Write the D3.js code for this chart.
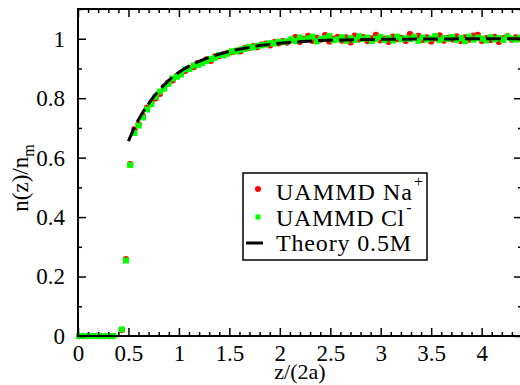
<!DOCTYPE html>
<html><head><meta charset="utf-8">
<script src="https://cdn.jsdelivr.net/npm/d3@7"></script>
<style>html,body{margin:0;padding:0;background:#fff;overflow:hidden}
text, tspan {font-family:"Liberation Serif" !important;}</style>
</head><body><svg id="c" width="520" height="385" font-family="Liberation Serif"></svg>
<script>
const xTicks = [0, 0.5, 1, 1.5, 2, 2.5, 3, 3.5, 4];
const xTickLabels = ["0", "0.5", "1", "1.5", "2", "2.5", "3", "3.5", "4"];
const yTicks = [0, 0.2, 0.4, 0.6, 0.8, 1];
const yTickLabels = ["0", "0.2", "0.4", "0.6", "0.8", "1"];
const xMinor = [0.1,0.2,0.3,0.4,0.6,0.7,0.8,0.9,1.1,1.2,1.3,1.4,1.6,1.7,1.8,1.9,2.1,2.2,2.3,2.4,2.6,2.7,2.8,2.9,3.1,3.2,3.3,3.4,3.6,3.7,3.8,3.9,4.1,4.2,4.3];
const yMinor = [0.1,0.3,0.5,0.7,0.9,1.1];

const zData = [0.013,0.055,0.097,0.139,0.181,0.223,0.265,0.307,0.349,
0.433,0.475,0.517,0.559,0.601,0.643,0.685,0.727,0.769,0.811,0.853,0.895,0.937,0.979,
1.021,1.063,1.105,1.147,1.189,1.231,1.273,1.315,1.357,1.399,1.441,1.483,1.525,1.567,1.609,1.651,1.693,1.735,1.777,1.819,1.861,1.903,1.945,1.987,
2.029,2.071,2.113,2.155,2.197,2.239,2.281,2.323,2.365,2.407,2.449,2.491,2.533,2.575,2.617,2.659,2.701,2.743,2.785,2.827,2.869,2.911,2.953,2.995,
3.037,3.079,3.121,3.163,3.205,3.247,3.289,3.331,3.373,3.415,3.457,3.499,3.541,3.583,3.625,3.667,3.709,3.751,3.793,3.835,3.877,3.919,3.961,
4.003,4.045,4.087,4.129,4.171,4.213,4.255,4.297,4.339,4.381];

const naValues = [0,0,0,0,0,0,0,0,0,
0.020,0.258,0.578,0.695,0.712,0.740,0.768,0.785,0.800,0.815,0.838,0.852,0.860,0.875,
0.885,0.892,0.902,0.905,0.918,0.922,0.930,0.926,0.940,0.942,0.948,0.952,0.955,0.960,0.958,0.968,0.970,0.975,0.972,0.980,0.983,0.978,0.988,0.985,
0.992,0.987,0.996,1.005,0.990,0.999,1.009,0.993,1.003,0.997,1.012,0.991,1.000,1.006,0.994,1.004,0.988,1.010,0.998,1.005,0.992,1.001,1.013,0.995,
1.000,0.990,1.007,0.999,1.003,0.993,1.015,1.006,1.009,0.996,1.004,0.991,1.002,1.011,0.994,1.003,0.998,1.008,0.992,1.004,0.997,1.010,1.013,
0.993,1.002,0.996,1.006,0.990,1.001,1.008,0.997,1.004,1.001];

const clValues = [0,0,0,0,0,0,0,0,0,
0.022,0.254,0.575,0.683,0.708,0.735,0.762,0.780,0.805,0.822,0.832,0.848,0.866,0.872,
0.880,0.897,0.898,0.910,0.912,0.918,0.925,0.932,0.936,0.945,0.944,0.950,0.958,0.957,0.963,0.966,0.972,0.971,0.976,0.978,0.980,0.985,0.984,0.990,
0.988,0.991,0.998,0.992,1.004,0.996,1.001,1.007,0.991,0.999,1.002,1.009,0.995,0.998,1.005,0.993,1.002,0.996,1.008,0.999,1.004,0.992,1.000,1.006,
0.996,1.002,0.994,1.007,0.998,1.002,0.999,1.006,0.993,1.004,0.997,1.001,1.009,0.995,1.002,0.999,1.006,0.996,1.002,0.992,1.007,0.997,1.004,
1.000,0.994,1.005,0.998,1.002,0.996,1.007,1.000,0.997,1.004];

const zTheory = [0.5,0.55,0.6,0.65,0.7,0.75,0.8,0.9,1.0,1.1,1.2,1.3,1.4,1.5,1.6,1.7,1.8,1.9,2.0,2.2,2.4,2.6,2.8,3.0,3.5,4.0,4.4];
const theoryValues = [0.655,0.695,0.728,0.757,0.782,0.805,0.825,0.860,0.887,0.908,0.924,0.937,0.948,0.957,0.965,0.971,0.977,0.981,0.985,0.990,0.994,0.996,0.997,0.998,0.999,1.0,1.0];

const seriesNames = ["UAMMD Na", "UAMMD Cl", "Theory 0.5M"];
const seriesSup = ["+", "-", ""];

const FONT = '"Liberation Serif"';
const svg = d3.select("#c");
const x = d3.scaleLinear().domain([0, 4.4]).range([78, 522]);
const y = d3.scaleLinear().domain([0, 1.1]).range([336, 9]);

// data
const na = d3.zip(zData, naValues);
const cl = d3.zip(zData, clValues);
svg.append("g").selectAll("circle").data(na).join("circle")
  .attr("cx", d => x(d[0])).attr("cy", d => y(d[1])).attr("r", 3.2).attr("fill", "#ff0000");
svg.append("g").selectAll("rect").data(cl).join("rect")
  .attr("x", d => x(d[0]) - 3).attr("y", d => y(d[1]) - 3).attr("width", 6).attr("height", 6).attr("fill", "#00ff00");
const line = d3.line().x(d => x(d[0])).y(d => y(d[1])).curve(d3.curveMonotoneX);
svg.append("path").datum(d3.zip(zTheory, theoryValues)).attr("d", line)
  .attr("fill", "none").attr("stroke", "#000").attr("stroke-width", 3).attr("stroke-dasharray", "15,6");

// axes
function addAxis(axisFn, tx, ty, ticks, labels, size, pad) {
  const a = axisFn.tickValues(ticks).tickSize(size);
  if (labels) a.tickFormat((d, i) => labels[i]).tickPadding(pad); else a.tickFormat("");
  const g = svg.append("g").attr("transform", `translate(${tx},${ty})`).call(a);
  g.attr("font-family", "Liberation Serif").attr("font-size", 23);
  g.select(".domain").remove();
  g.selectAll("line").attr("stroke", "#000").attr("stroke-width", 1.5);
  g.selectAll("text").attr("fill", "#000");
}
addAxis(d3.axisBottom(x), 0, 336, xTicks, xTickLabels, -8, 9);
addAxis(d3.axisBottom(x), 0, 336, xMinor, null, -4);
addAxis(d3.axisTop(x), 0, 9, xTicks, null, -8);
addAxis(d3.axisTop(x), 0, 9, xMinor, null, -4);
addAxis(d3.axisLeft(y), 78, 0, yTicks, yTickLabels, -8, 13);
addAxis(d3.axisLeft(y), 78, 0, yMinor, null, -4);
addAxis(d3.axisRight(y), 522, 0, yTicks, null, -8);
addAxis(d3.axisRight(y), 522, 0, yMinor, null, -4);

svg.append("rect").attr("x", 78).attr("y", 9).attr("width", 444).attr("height", 327)
  .attr("fill", "none").attr("stroke", "#000").attr("stroke-width", 2);

// axis titles
svg.append("text").attr("x", 300).attr("y", 379).attr("text-anchor", "middle")
  .attr("font-size", 22).text("z/(2a)");
const yl = svg.append("text").attr("transform", "translate(28,178) rotate(-90)").attr("text-anchor", "middle")
  .attr("font-size", 23);
yl.append("tspan").text("n(z)/n");
yl.append("tspan").attr("font-size", 16).attr("dy", 6).text("m");

// legend
const lg = svg.append("g");
lg.append("rect").attr("x", 243).attr("y", 173).attr("width", 184).attr("height", 87)
  .attr("fill", "#fff").attr("stroke", "#000").attr("stroke-width", 1.5);
lg.append("circle").attr("cx", 258).attr("cy", 189).attr("r", 3).attr("fill", "#ff0000");
lg.append("rect").attr("x", 255.5).attr("y", 214.5).attr("width", 5).attr("height", 5).attr("fill", "#00ff00");
lg.append("line").attr("x1", 246).attr("x2", 263).attr("y1", 243).attr("y2", 243).attr("stroke", "#000").attr("stroke-width", 3);
const baselines = [200, 226, 251];
const targetWidths = [137, 129, 136];
svg.selectAll("text").style("font-family", FONT);
seriesNames.forEach((n, i) => {
  const t = lg.append("text").attr("x", 276).attr("y", baselines[i]).attr("font-size", 24).style("font-family", FONT);
  const main = t.append("tspan").text(n);
  const w = main.node().getComputedTextLength();
  const ls = Math.max(0, (targetWidths[i] - w) / n.length);
  main.style("letter-spacing", ls + "px");
  if (seriesSup[i]) t.append("tspan").attr("font-size", 16).attr("dy", -13).attr("dx", -ls + 2).text(seriesSup[i]);
});
</script></body></html>
